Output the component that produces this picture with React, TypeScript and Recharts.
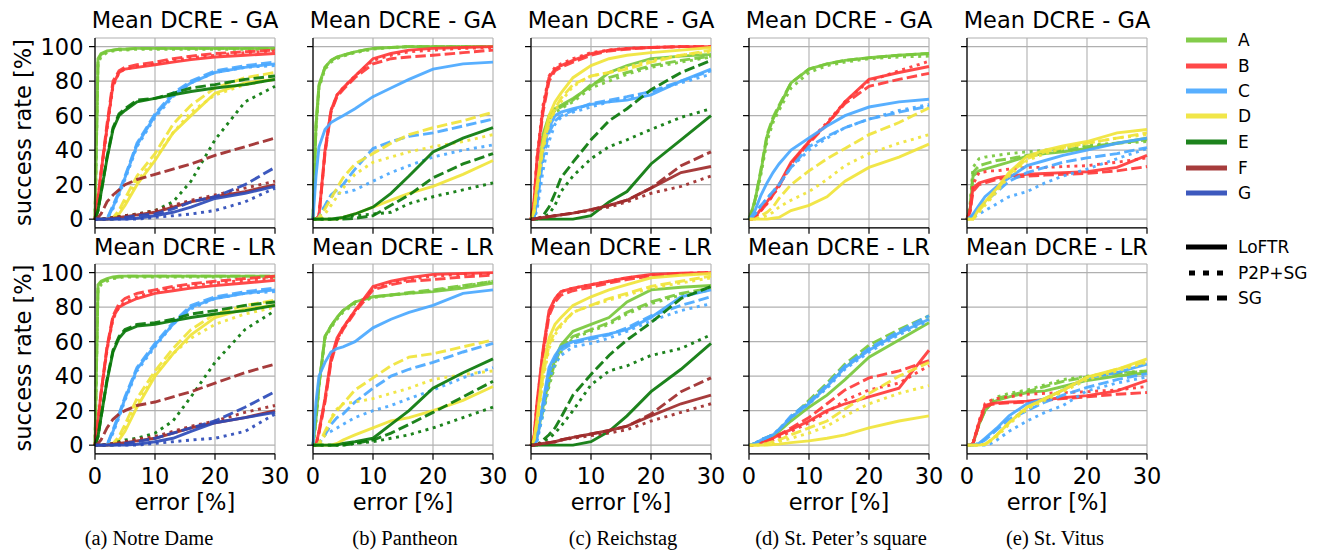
import { CartesianGrid, Line, LineChart, XAxis, YAxis } from "recharts";

// error thresholds (%) at which the success-rate curves were read
const ERRORS = [0, 0.5, 1, 2, 3, 4, 5, 7, 10, 13, 16, 20, 25, 30];
const METHODS = ["A", "B", "C", "D", "E", "F", "G"];
const MATCHERS = ["LoFTR", "P2P+SG", "SG"];
const X_TICKS = [0, 10, 20, 30];
const Y_TICKS = [0, 20, 40, 60, 80, 100];
const SCENES = [
  "(a) Notre Dame",
  "(b) Pantheon",
  "(c) Reichstag",
  "(d) St. Peter’s square",
  "(e) St. Vitus",
];
const ROW_TITLES = ["Mean DCRE - GA", "Mean DCRE - LR"];

type Curve = [string, string, number[]];

const notreDameGA: Curve[] = [
  ["A", "LoFTR", [0, 93, 96, 97.5, 98, 98.5, 98.5, 99, 99, 99, 99, 99, 99, 99]],
  ["A", "P2P+SG", [0, 90, 94, 96.5, 97.5, 98, 98, 98.5, 98.5, 98.5, 98.5, 98.5, 98.5, 98.5]],
  ["A", "SG", [0, 92, 95.5, 97, 98, 98.5, 98.5, 99, 99, 99, 99, 99, 99, 99]],
  ["B", "LoFTR", [0, 12, 27, 53, 78, 85, 87, 88, 89.5, 91, 92.5, 94, 95, 96]],
  ["B", "P2P+SG", [0, 11, 26, 52, 77, 85, 87, 88.5, 90, 92, 93.5, 95, 96.5, 97.5]],
  ["B", "SG", [0, 12, 27, 55, 80, 86, 88, 89.5, 91, 93, 94.5, 96, 97, 98]],
  ["C", "LoFTR", [0, 0, 0, 0, 7, 15, 24, 43, 60, 72, 79, 85, 88, 90]],
  ["C", "P2P+SG", [0, 0, 0, 0, 6, 14, 23, 42, 59, 71, 79, 85, 88, 89]],
  ["C", "SG", [0, 0, 0, 0, 8, 16, 25, 44, 61, 73, 80, 86, 89, 91]],
  ["D", "LoFTR", [0, 0, 0, 0, 0, 3, 8, 20, 34, 50, 60, 73, 79, 81]],
  ["D", "P2P+SG", [0, 0, 0, 0, 0, 4, 10, 22, 35, 50, 62, 72, 78, 81]],
  ["D", "SG", [0, 0, 0, 0, 1, 5, 12, 25, 38, 55, 66, 76, 82, 85]],
  ["E", "LoFTR", [0, 5, 15, 35, 52, 60, 63, 68, 70, 72, 74, 76, 78, 81]],
  ["E", "P2P+SG", [0, 0, 0, 0.5, 1, 1.5, 2, 3, 5, 10, 22, 46, 68, 77]],
  ["E", "SG", [0, 5, 15, 36, 53, 61, 64, 69, 70, 73, 76, 78, 81, 83]],
  ["F", "LoFTR", [0, 0, 0, 0, 0.5, 1, 1.5, 2.5, 4, 7, 10, 13, 16, 20]],
  ["F", "P2P+SG", [0, 0, 0, 0.5, 1, 1.5, 2, 3, 5, 8, 11, 14, 18, 22]],
  ["F", "SG", [0, 1, 3, 10, 14, 17, 20, 23, 26, 29, 32, 37, 42, 47]],
  ["G", "LoFTR", [0, 0, 0, 0, 0, 0, 0, 0.5, 2, 4, 7, 12, 15, 19]],
  ["G", "P2P+SG", [0, 0, 0, 0, 0, 0, 0, 0, 1, 2, 3, 5, 10, 18]],
  ["G", "SG", [0, 0, 0, 0, 0, 0.5, 1, 2, 3, 6, 10, 13, 20, 30]],
];

const notreDameLR: Curve[] = [
  ["A", "LoFTR", [0, 93, 95, 96.5, 97.5, 98, 98, 98, 98, 98, 98, 98, 98, 98]],
  ["A", "P2P+SG", [0, 90, 93, 95, 96.5, 97, 97.5, 97.5, 97.5, 97.5, 97.5, 97.5, 97.5, 97.5]],
  ["A", "SG", [0, 92, 94.5, 96, 97, 97.5, 98, 98, 98, 98, 98, 98, 98, 98]],
  ["B", "LoFTR", [0, 14, 30, 56, 74, 80, 82, 85, 88, 89.5, 91, 92.5, 94, 95.5]],
  ["B", "P2P+SG", [0, 13, 29, 55, 73, 80, 83, 86, 89, 91, 92.5, 94, 95.5, 97]],
  ["B", "SG", [0, 14, 30, 57, 75, 82, 85, 88, 90, 92, 93.5, 95, 96.5, 98]],
  ["C", "LoFTR", [0, 0, 0, 0, 8, 17, 27, 44, 58, 70, 80, 85, 88, 90]],
  ["C", "P2P+SG", [0, 0, 0, 0, 7, 16, 26, 43, 57, 70, 79, 85, 88, 89]],
  ["C", "SG", [0, 0, 0, 0, 9, 18, 28, 45, 59, 71, 81, 86, 89, 91]],
  ["D", "LoFTR", [0, 0, 0, 0, 0, 3, 8, 22, 40, 53, 64, 74, 79, 81]],
  ["D", "P2P+SG", [0, 0, 0, 0, 0, 4, 10, 24, 41, 53, 62, 70, 76, 80]],
  ["D", "SG", [0, 0, 0, 0, 1, 5, 12, 27, 43, 56, 67, 76, 81, 84]],
  ["E", "LoFTR", [0, 5, 16, 37, 54, 62, 66, 69, 70, 72, 74, 76, 78, 81]],
  ["E", "P2P+SG", [0, 0, 0, 0.5, 1, 2, 3, 4, 7, 14, 28, 48, 67, 78]],
  ["E", "SG", [0, 5, 16, 38, 55, 63, 67, 70, 71, 73, 76, 78, 81, 83]],
  ["F", "LoFTR", [0, 0, 0, 0, 0.5, 1, 1.5, 2.5, 4, 7, 10, 13, 16, 20]],
  ["F", "P2P+SG", [0, 0, 0, 0.5, 1, 1.5, 2, 3.5, 5, 8, 11, 14, 19, 23]],
  ["F", "SG", [0, 1, 3, 10, 15, 18, 20, 23, 25, 28, 31, 36, 42, 47]],
  ["G", "LoFTR", [0, 0, 0, 0, 0, 0, 0, 0.5, 2, 4, 8, 13, 16, 19]],
  ["G", "P2P+SG", [0, 0, 0, 0, 0, 0, 0, 0, 1, 2, 3, 4, 8, 18]],
  ["G", "SG", [0, 0, 0, 0, 0, 0.5, 1, 2, 4, 7, 10, 14, 22, 31]],
];

const pantheonGA: Curve[] = [
  ["A", "LoFTR", [0, 55, 78, 88, 92, 94, 95, 97, 99, 99.5, 100, 100, 100, 100]],
  ["A", "P2P+SG", [0, 52, 76, 87, 91, 93, 94.5, 96.5, 98.5, 99.5, 100, 100, 100, 100]],
  ["A", "SG", [0, 54, 77, 88, 92, 94, 95, 97, 99, 99.5, 100, 100, 100, 100]],
  ["B", "LoFTR", [0, 0, 2, 40, 63, 72, 76, 83, 93, 96, 98, 99, 99.5, 100]],
  ["B", "P2P+SG", [0, 0, 2, 39, 63, 72, 76, 83, 92, 95, 97, 98, 99, 99.5]],
  ["B", "SG", [0, 0, 2, 38, 62, 71, 75, 82, 90, 93, 94, 95, 96.5, 98]],
  ["C", "LoFTR", [0, 25, 42, 52, 56, 58, 60, 64, 71, 76, 81, 87, 90, 91]],
  ["C", "P2P+SG", [0, 0, 1, 8, 13, 15, 15, 17, 22, 27, 31, 36, 40, 43]],
  ["C", "SG", [0, 0, 1, 8, 14, 17, 20, 29, 41, 45, 48, 50, 54, 58]],
  ["D", "LoFTR", [0, 0, 0, 0, 0, 0, 1, 3, 7, 11, 15, 19, 26, 34]],
  ["D", "P2P+SG", [0, 0, 0, 3, 8, 13, 18, 26, 33, 36, 39, 42, 45, 49]],
  ["D", "SG", [0, 0, 1, 6, 12, 18, 24, 32, 38, 44, 49, 53, 57, 62]],
  ["E", "LoFTR", [0, 0, 0, 0, 0, 0.5, 1, 3, 7, 15, 25, 39, 47, 53]],
  ["E", "P2P+SG", [0, 0, 0, 0, 0, 0, 1, 2, 3, 4, 9, 13, 17, 21]],
  ["E", "SG", [0, 0, 0, 0, 0, 0, 0, 0.5, 2, 8, 14, 24, 32, 38]],
];

const pantheonLR: Curve[] = [
  ["A", "LoFTR", [0, 15, 35, 63, 69, 74, 78, 83, 86, 87, 88, 89, 91, 94]],
  ["A", "P2P+SG", [0, 14, 34, 62, 68, 73, 77, 82, 85.5, 87, 88, 89.5, 92, 95]],
  ["A", "SG", [0, 15, 35, 63, 69, 74, 78, 83, 86, 87, 88.5, 90, 92.5, 95]],
  ["B", "LoFTR", [0, 0, 8, 27, 50, 62, 68, 78, 92, 95, 97, 99, 99.5, 100]],
  ["B", "P2P+SG", [0, 0, 8, 26, 49, 61, 68, 78, 91, 94, 96, 98, 99, 99.5]],
  ["B", "SG", [0, 0, 7, 25, 48, 60, 67, 77, 90, 93, 95, 96, 97.5, 98.5]],
  ["C", "LoFTR", [0, 25, 40, 48, 54, 56, 57, 60, 68, 73, 77, 81, 88, 90]],
  ["C", "P2P+SG", [0, 0, 1, 6, 8, 10, 12, 16, 20, 23, 27, 32, 39, 45]],
  ["C", "SG", [0, 0, 1, 6, 12, 16, 18, 25, 33, 40, 44, 48, 54, 59]],
  ["D", "LoFTR", [0, 0, 0, 0, 0, 1, 3, 6, 10, 14, 16, 20, 26, 34]],
  ["D", "P2P+SG", [0, 0, 0, 6, 16, 21, 24, 25, 27, 30, 33, 38, 41, 43]],
  ["D", "SG", [0, 0, 1, 8, 15, 20, 24, 32, 39, 46, 51, 53, 57, 61]],
  ["E", "LoFTR", [0, 0, 0, 0, 0, 0, 1, 2, 4, 12, 20, 33, 42, 50]],
  ["E", "P2P+SG", [0, 0, 0, 0, 0, 0, 0, 1, 2, 4, 6, 10, 16, 22]],
  ["E", "SG", [0, 0, 0, 0, 0, 0, 0, 1, 3, 7, 12, 19, 28, 37]],
];

const reichstagGA: Curve[] = [
  ["A", "LoFTR", [0, 2, 15, 49, 60, 64, 66, 70, 77, 85, 89, 93, 94.5, 95.5]],
  ["A", "P2P+SG", [0, 1, 12, 43, 57, 62, 64, 68, 76, 80, 84, 88, 91, 94]],
  ["A", "SG", [0, 2, 13, 45, 58, 63, 65, 69, 78, 82, 85, 89, 92, 94.5]],
  ["B", "LoFTR", [0, 10, 35, 64, 82, 87, 89, 92, 96, 98, 99, 99.5, 100, 100]],
  ["B", "P2P+SG", [0, 10, 36, 66, 83, 88, 90, 93, 96.5, 98, 99, 99.5, 100, 100]],
  ["B", "SG", [0, 9, 33, 62, 80, 86, 88, 91, 95, 97.5, 98.5, 99.5, 100, 100]],
  ["C", "LoFTR", [0, 1, 10, 40, 53, 60, 62, 64, 66.5, 68, 69, 72, 80, 87]],
  ["C", "P2P+SG", [0, 0, 5, 28, 45, 55, 59, 62, 65, 68, 70, 74, 79, 84]],
  ["C", "SG", [0, 1, 8, 35, 50, 57, 60, 63, 67, 69, 71, 74, 80, 86]],
  ["D", "LoFTR", [0, 5, 20, 45, 60, 68, 73, 82, 89, 93, 95, 96.5, 98, 99.5]],
  ["D", "P2P+SG", [0, 4, 17, 40, 55, 63, 68, 77, 83, 85, 88, 92, 95, 97]],
  ["D", "SG", [0, 4, 18, 42, 56, 64, 70, 78, 83, 85, 87, 91, 95, 98]],
  ["E", "LoFTR", [0, 0, 0, 0, 0, 0, 0, 0, 2, 10, 16, 32, 46, 60]],
  ["E", "P2P+SG", [0, 0, 0, 1, 3, 8, 16, 25, 35, 42, 46, 52, 59, 64]],
  ["E", "SG", [0, 0, 0, 2, 7, 15, 24, 33, 46, 57, 64, 75, 85, 92]],
  ["F", "LoFTR", [0, 0, 0.5, 1, 1.5, 2, 2.5, 3.5, 5.5, 8, 11, 18, 27, 30.5]],
  ["F", "P2P+SG", [0, 0, 0.5, 1, 1.5, 2, 2.5, 3.5, 5, 7, 10, 15, 19, 25]],
  ["F", "SG", [0, 0, 0.5, 1, 1.5, 2, 2.5, 3.5, 5.5, 8, 11, 18, 31, 39]],
];

const reichstagLR: Curve[] = [
  ["A", "LoFTR", [0, 0, 5, 22, 38, 50, 58, 66, 70, 74, 83, 90, 91.5, 92.5]],
  ["A", "P2P+SG", [0, 0, 4, 18, 34, 46, 54, 62, 66, 70, 76, 82, 87, 90]],
  ["A", "SG", [0, 0, 5, 20, 36, 48, 56, 63, 67, 71, 77, 83, 88, 91]],
  ["B", "LoFTR", [0, 5, 25, 55, 78, 85, 89, 91, 93, 95, 97, 99, 99.7, 100]],
  ["B", "P2P+SG", [0, 5, 24, 54, 77, 85, 89, 91, 93, 95, 97, 98.5, 99.5, 100]],
  ["B", "SG", [0, 4, 22, 52, 75, 83, 87, 89.5, 91.5, 94, 96, 98, 99.5, 100]],
  ["C", "LoFTR", [0, 0, 4, 25, 45, 52, 57, 60, 62.5, 64.5, 67, 74, 86, 90]],
  ["C", "P2P+SG", [0, 0, 2, 18, 38, 47, 52, 57, 59, 62, 66, 72, 78, 82]],
  ["C", "SG", [0, 0, 3, 22, 42, 50, 55, 59, 61.5, 64, 68, 75, 81, 86]],
  ["D", "LoFTR", [0, 3, 15, 45, 62, 70, 74, 81, 86, 90, 93, 97, 98.5, 99.5]],
  ["D", "P2P+SG", [0, 3, 12, 38, 56, 64, 69, 77, 81, 84, 87, 91, 94, 97]],
  ["D", "SG", [0, 3, 13, 40, 58, 66, 70, 77, 81, 85, 88, 92, 95, 98]],
  ["E", "LoFTR", [0, 0, 0, 0, 0, 0, 0, 0, 2, 8, 17, 31, 44, 59]],
  ["E", "P2P+SG", [0, 0, 0, 2, 4, 7, 11, 20, 35, 43, 46, 52, 56, 64]],
  ["E", "SG", [0, 0, 0, 3, 6, 10, 16, 29, 41, 52, 61, 71, 85, 92]],
  ["F", "LoFTR", [0, 0, 0.5, 1, 1.5, 2, 3, 4.5, 6.5, 8.5, 11, 17, 24, 29]],
  ["F", "P2P+SG", [0, 0, 0.5, 1, 1.5, 2, 3, 4, 5.5, 7, 9, 14, 19, 24]],
  ["F", "SG", [0, 0, 0.5, 1, 1.5, 2, 3, 4.5, 6.5, 8.5, 11, 18, 31, 39]],
];

const stPeterGA: Curve[] = [
  ["A", "LoFTR", [0, 5, 11, 28, 48, 58, 65, 79, 87, 90, 92, 93.6, 95, 96]],
  ["A", "P2P+SG", [0, 4, 10, 26, 45, 56, 63, 76, 85, 89, 91, 93, 94, 94.5]],
  ["A", "SG", [0, 5, 11, 29, 49, 59, 66, 79, 87, 90, 92, 93.5, 95, 96]],
  ["B", "LoFTR", [0, 0, 1, 6, 10, 15, 20, 33, 45, 55, 68, 81, 85, 88.5]],
  ["B", "P2P+SG", [0, 0, 1, 5, 9, 14, 19, 32, 45, 56, 68, 80, 86, 91.5]],
  ["B", "SG", [0, 0, 1, 5, 9, 14, 19, 32, 44, 55, 67, 77, 81, 84.5]],
  ["C", "LoFTR", [0, 2, 5, 14, 21, 27, 32, 40, 47, 54, 60, 65, 68, 69.5]],
  ["C", "P2P+SG", [0, 1, 3, 8, 12, 16, 20, 30, 40, 47, 53, 58, 63, 66.5]],
  ["C", "SG", [0, 1, 3, 8, 12, 16, 20, 30, 42, 48, 53, 58, 62, 65.5]],
  ["D", "LoFTR", [0, 0, 0, 0, 0, 0.5, 1, 5, 8, 13, 22, 30, 36, 43.5]],
  ["D", "P2P+SG", [0, 0, 0, 1, 2, 4, 7, 11, 16, 23, 31, 38, 44, 49]],
  ["D", "SG", [0, 0, 0, 2, 4, 7, 12, 20, 28, 35, 41, 49, 56, 64.5]],
];

const stPeterLR: Curve[] = [
  ["A", "LoFTR", [0, 0, 1, 2, 3, 5, 8, 14, 22, 29, 38, 51, 61, 71]],
  ["A", "P2P+SG", [0, 0.5, 1, 3, 4.5, 6, 9, 16, 25, 34, 45, 56, 65, 73]],
  ["A", "SG", [0, 0.5, 1, 3, 4.5, 6, 9, 16, 26, 36, 47, 58, 67, 75]],
  ["B", "LoFTR", [0, 0, 0.5, 1.5, 2.5, 4, 6, 9, 14, 20, 24, 28, 33, 55]],
  ["B", "P2P+SG", [0, 0, 0.5, 1, 2, 3, 4.5, 8, 13, 19, 26, 32, 36, 46]],
  ["B", "SG", [0, 0, 0.5, 1.5, 2.5, 4, 6, 10, 16, 24, 32, 39, 43, 49]],
  ["C", "LoFTR", [0, 0.5, 1, 3, 4.5, 6, 9, 16, 24, 34, 45, 55, 65, 73]],
  ["C", "P2P+SG", [0, 0.5, 1, 3, 4.5, 6, 9, 16, 24, 33, 44, 54, 64, 72]],
  ["C", "SG", [0, 0.5, 1, 3, 4.5, 6, 9, 17, 25, 35, 46, 56, 66, 75]],
  ["D", "LoFTR", [0, 0, 0, 0, 0, 0.3, 0.6, 1.5, 2.5, 4, 6, 10, 14, 17]],
  ["D", "P2P+SG", [0, 0, 0, 0, 0.5, 1, 2, 4, 7, 11, 17, 24, 30, 34.5]],
  ["D", "SG", [0, 0, 0, 0.5, 1, 2, 3, 6, 10, 14, 21, 30, 40, 48]],
];

const stVitusGA: Curve[] = [
  ["A", "LoFTR", [0, 5, 25, 28, 29, 30, 31, 33, 36.5, 38, 39, 41, 44, 47]],
  ["A", "P2P+SG", [0, 8, 30, 35, 36, 36.5, 37, 38, 39, 40, 41, 43, 44, 45]],
  ["A", "SG", [0, 6, 27, 31, 32, 33, 34, 35, 37, 39, 40, 42, 44, 46]],
  ["B", "LoFTR", [0, 5, 18, 21, 22, 23, 24, 25, 26, 26.5, 27, 27.5, 30, 37]],
  ["B", "P2P+SG", [0, 5, 20, 27, 27.5, 28, 28, 29, 30, 30, 30.5, 31, 33, 35.5]],
  ["B", "SG", [0, 4, 16, 20, 21, 22, 23, 24, 25, 25.5, 26, 26.5, 28, 30.5]],
  ["C", "LoFTR", [0, 1, 3, 8, 13, 16, 19, 24, 31, 34, 37, 40, 44, 47]],
  ["C", "P2P+SG", [0, 0.5, 1, 3, 5, 7, 9, 13, 16, 21, 25, 29, 35, 41]],
  ["C", "SG", [0, 1, 2, 6, 10, 13, 16, 22, 27, 30, 33, 35.5, 38, 41.5]],
  ["D", "LoFTR", [0, 0, 0, 6, 10, 14, 18, 27, 36.5, 40, 42.5, 45, 50, 52]],
  ["D", "P2P+SG", [0, 0, 0, 4, 8, 12, 16, 25, 34, 38, 41, 44, 47, 49]],
  ["D", "SG", [0, 0, 0, 5, 9, 13, 17, 26, 35, 39, 41.5, 44, 47, 50]],
];

const stVitusLR: Curve[] = [
  ["A", "LoFTR", [0, 0, 1, 12, 20, 24, 26, 28, 30.5, 31.5, 34, 37.5, 40, 42]],
  ["A", "P2P+SG", [0, 0, 1, 12, 21, 25, 28, 30, 32, 35, 38, 40, 42, 43]],
  ["A", "SG", [0, 0, 1, 12, 20, 24, 27, 29, 31, 34, 37, 39.5, 41.5, 43]],
  ["B", "LoFTR", [0, 0, 1, 13, 23, 24, 24.5, 25, 25.5, 26.5, 27.5, 28.7, 31.5, 37.5]],
  ["B", "P2P+SG", [0, 0, 1, 14, 24, 26, 27, 28, 29.5, 30, 30.5, 31, 32, 34]],
  ["B", "SG", [0, 0, 1, 12, 22, 23.5, 24, 24.5, 25, 26, 27, 28, 29.5, 30.5]],
  ["C", "LoFTR", [0, 0, 0, 1, 4, 7, 10, 17, 24, 27, 32, 39, 42, 47]],
  ["C", "P2P+SG", [0, 0, 0, 0, 0, 1, 3, 8, 14, 19, 23, 31.5, 36, 39.5]],
  ["C", "SG", [0, 0, 0, 1, 3, 6, 9, 15, 20, 25, 29, 33.5, 38, 41.5]],
  ["D", "LoFTR", [0, 0, 0, 0, 0.5, 3, 6, 13, 22, 27, 32, 39.5, 44, 50]],
  ["D", "P2P+SG", [0, 0, 0, 0, 0.5, 2.5, 5, 12, 21, 26, 31, 38, 43, 48]],
  ["D", "SG", [0, 0, 0, 0, 0.5, 3, 6, 13, 22, 27, 32, 39, 44, 48.5]],
];

const GA_CURVES = [notreDameGA, pantheonGA, reichstagGA, stPeterGA, stVitusGA];
const LR_CURVES = [notreDameLR, pantheonLR, reichstagLR, stPeterLR, stVitusLR];

const COLORS: Record<string, string> = {
  A: "#78c83c",
  B: "#ff3a3a",
  C: "#4aa8ff",
  D: "#f0e43a",
  E: "#0a780a",
  F: "#9e2b2b",
  G: "#2d4bb8",
};
const DASHES: Record<string, string | undefined> = {
  LoFTR: undefined,
  "P2P+SG": "3 4.6",
  SG: "10.5 4.2",
};

const FONT = "DejaVu Sans, sans-serif";
const COL_X = [95, 313, 531, 749, 967];
const ROW_Y = [37.7, 264.3];
const PLOT_W = 180;
const PLOT_H = 189.8;
const Y_AXIS_W = 60;
const X_AXIS_H = 45;
const PAD = 10;
const PAD_RIGHT = 30;
const frame = { stroke: "#000", strokeWidth: 1.2 };
const tickStyle = { fill: "#000", fontSize: 22.5, fontFamily: FONT };

const toRows = (curves: Curve[]) =>
  ERRORS.map((error, i) => {
    const row: Record<string, number> = { error };
    curves.forEach(([m, k, v]) => {
      row[`${m}|${k}`] = v[i];
    });
    return row;
  });

const Panel = ({ col, row, curves }: { col: number; row: number; curves: Curve[] }) => {
  const blank = () => "";
  return (
    <div style={{ position: "absolute", left: COL_X[col] - Y_AXIS_W, top: ROW_Y[row] - PAD }}>
      <LineChart
        width={Y_AXIS_W + PLOT_W + PAD_RIGHT}
        height={PAD + PLOT_H + X_AXIS_H}
        data={toRows(curves)}
        margin={{ top: PAD, right: PAD_RIGHT, bottom: 0, left: 0 }}
      >
        <CartesianGrid stroke="#b0b0b0" strokeWidth={1.1} />
        <XAxis
          dataKey="error"
          type="number"
          domain={[0, 30]}
          ticks={X_TICKS}
          interval={0}
          height={X_AXIS_H}
          tickSize={6}
          tickMargin={8.5}
          tick={tickStyle}
          tickFormatter={row === 1 ? undefined : blank}
          axisLine={frame}
          tickLine={frame}
        />
        <YAxis
          type="number"
          domain={[-5, 105]}
          ticks={Y_TICKS}
          interval={0}
          width={Y_AXIS_W}
          tickSize={6}
          tickMargin={5.5}
          tick={tickStyle}
          tickFormatter={col === 0 ? undefined : blank}
          axisLine={frame}
          tickLine={frame}
        />
        <XAxis
          xAxisId="top"
          orientation="top"
          type="number"
          domain={[0, 30]}
          height={0}
          tick={false}
          tickLine={false}
          axisLine={frame}
        />
        <YAxis
          yAxisId="right"
          orientation="right"
          type="number"
          domain={[-5, 105]}
          width={0}
          tick={false}
          tickLine={false}
          axisLine={frame}
        />
        {curves.map(([m, k]) => (
          <Line
            key={`${m}|${k}`}
            dataKey={`${m}|${k}`}
            type="linear"
            stroke={COLORS[m]}
            strokeOpacity={0.92}
            strokeWidth={2.9}
            strokeDasharray={DASHES[k]}
            dot={false}
            activeDot={false}
            isAnimationActive={false}
          />
        ))}
      </LineChart>
    </div>
  );
};

const CAPTION_X = [149, 405, 623, 841, 1055];
const LEGEND_Y = [40, 66, 91, 116, 142, 168, 193];
const STYLE_Y = [247, 273, 298];

const Labels = () => (
  <svg
    width={1317}
    height={550}
    style={{ position: "absolute", left: 0, top: 0, pointerEvents: "none" }}
  >
    {COL_X.map((x, c) =>
      ROW_TITLES.map((t, r) => (
        <text
          key={`${c}-${r}`}
          x={x + PLOT_W / 2}
          y={r === 0 ? 28.3 : 255}
          textAnchor="middle"
          fontSize={22.5}
          fontFamily={FONT}
        >
          {t}
        </text>
      )),
    )}
    {[132.5, 358].map((y) => (
      <text
        key={y}
        x={31}
        y={y}
        transform={`rotate(-90 31 ${y})`}
        textAnchor="middle"
        fontSize={22.5}
        fontFamily={FONT}
      >
        success rate [%]
      </text>
    ))}
    {COL_X.map((x) => (
      <text key={x} x={x + PLOT_W / 2} y={510} textAnchor="middle" fontSize={22.5} fontFamily={FONT}>
        error [%]
      </text>
    ))}
    {SCENES.map((s, i) => (
      <text
        key={s}
        x={CAPTION_X[i]}
        y={545}
        textAnchor="middle"
        fontSize={20.5}
        fontFamily="Liberation Serif, Times New Roman, serif"
      >
        {s}
      </text>
    ))}
    {METHODS.map((m, i) => (
      <g key={m}>
        <line
          x1={1186}
          x2={1227}
          y1={LEGEND_Y[i]}
          y2={LEGEND_Y[i]}
          stroke={COLORS[m]}
          strokeOpacity={0.92}
          strokeWidth={5}
        />
        <text x={1238} y={LEGEND_Y[i] + 6.2} fontSize={17} fontFamily={FONT}>
          {m}
        </text>
      </g>
    ))}
    {MATCHERS.map((k, i) => (
      <g key={k}>
        <line
          x1={k === "P2P+SG" ? 1189 : 1186}
          x2={1227}
          y1={STYLE_Y[i]}
          y2={STYLE_Y[i]}
          stroke="#000"
          strokeWidth={5}
          strokeDasharray={k === "LoFTR" ? undefined : k === "SG" ? "23 8" : "6 8"}
        />
        <text x={1238} y={STYLE_Y[i] + 6.2} fontSize={17} fontFamily={FONT}>
          {k}
        </text>
      </g>
    ))}
  </svg>
);

export default function App() {
  return (
    <div
      style={{
        position: "absolute",
        left: 0,
        top: 0,
        width: 1317,
        height: 550,
        background: "#fff",
        fontFamily: FONT,
      }}
    >
      {GA_CURVES.map((curves, c) => (
        <Panel key={`ga${c}`} col={c} row={0} curves={curves} />
      ))}
      {LR_CURVES.map((curves, c) => (
        <Panel key={`lr${c}`} col={c} row={1} curves={curves} />
      ))}
      <Labels />
    </div>
  );
}
